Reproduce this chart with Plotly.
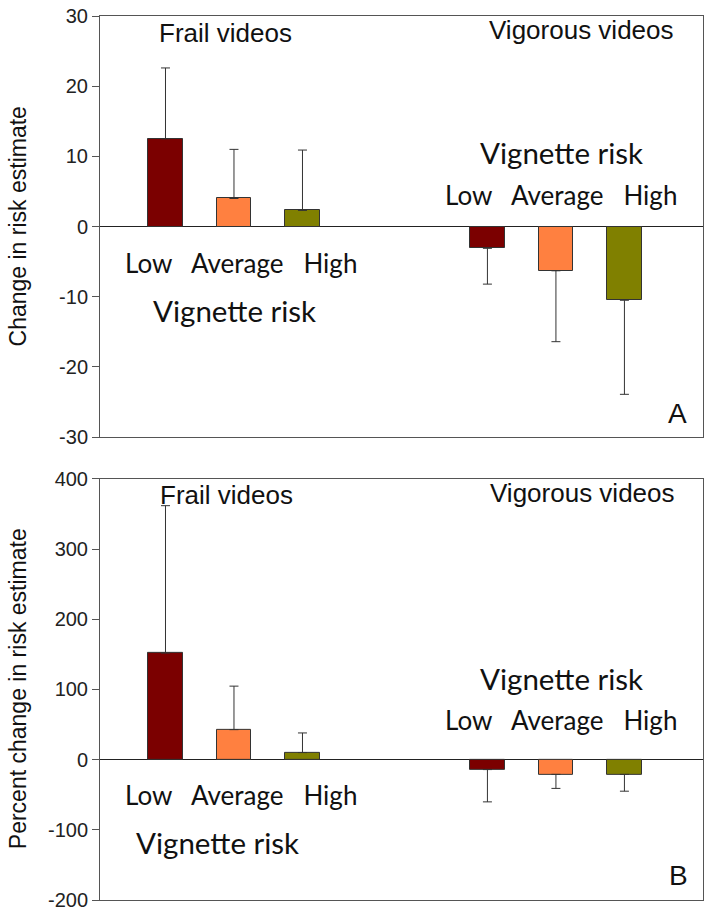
import plotly.graph_objects as go
from plotly.subplots import make_subplots

groups = ["Frail videos", "Vigorous videos"]
risk_levels = ["Low", "Average", "High"]

# Panel A: change in risk estimate
change_frail = [12.5, 4.0, 2.3]
change_frail_err = [10.1, 7.0, 8.6]
change_vig = [-3.1, -6.3, -10.5]
change_vig_err = [5.1, 10.1, 13.4]

# Panel B: percent change in risk estimate
pct_frail = [151.8, 42.7, 10.0]
pct_frail_err = [210.0, 62.0, 28.0]
pct_vig = [-14.2, -21.0, -21.0]
pct_vig_err = [46.0, 20.0, 24.0]

y_ticks_a = [-30, -20, -10, 0, 10, 20, 30]
y_ticks_b = [-200, -100, 0, 100, 200, 300, 400]

colors = ["#7B0000", "#FF8040", "#808000"]

W, H = 714, 916
ML, MR, MT, MB = 100, 10.5, 15.5, 16
PW = W - ML - MR
PH = H - MT - MB

# x layout: frail bars at 1..3, vigorous bars offset by group gap
group_offset = [0, 4.7]
def xpos(g):
    return [i + 1 + group_offset[g] for i in range(len(risk_levels))]

fig = make_subplots(rows=2, cols=1, vertical_spacing=0.0472)

def add_panel(row, frail, frail_err, vig, vig_err):
    for g, (vals, errs) in enumerate([(frail, frail_err), (vig, vig_err)]):
        pos = [v >= 0 for v in vals]
        fig.add_trace(go.Bar(
            x=xpos(g), y=vals, width=0.5,
            marker=dict(color=colors, line=dict(color="#333333", width=1)),
            error_y=dict(type="data",
                         array=[e if p else 0 for e, p in zip(errs, pos)],
                         arrayminus=[0 if p else e for e, p in zip(errs, pos)],
                         symmetric=False, color="#333333", thickness=1, width=4.5),
            showlegend=False, hoverinfo="skip"), row=row, col=1)

add_panel(1, change_frail, change_frail_err, change_vig, change_vig_err)
add_panel(2, pct_frail, pct_frail_err, pct_vig, pct_vig_err)

xr = [0.044, 8.847]
for r in (1, 2):
    fig.update_xaxes(range=xr, showticklabels=False, ticks="", showgrid=False,
                     zeroline=False, showline=True, linecolor="#555555", linewidth=1,
                     mirror=True, automargin=False, row=r, col=1)
fig.update_yaxes(range=[-30, 30], tickvals=y_ticks_a, ticktext=[str(v) for v in y_ticks_a],
                 row=1, col=1)
fig.update_yaxes(range=[-200, 400], tickvals=y_ticks_b, ticktext=[str(v) for v in y_ticks_b],
                 row=2, col=1)
fig.update_yaxes(showgrid=False, zeroline=True, zerolinecolor="#222222", zerolinewidth=1,
                 showline=True, linecolor="#555555", linewidth=1, mirror=True,
                 ticks="outside", ticklen=7, tickcolor="#555555", automargin=False,
                 tickfont=dict(family="Liberation Sans, Arial", size=20, color="#222222"))

def px(xp, yp):
    # pixel coordinates -> paper coordinates
    return (xp - ML) / PW, (H - MB - yp) / PH

ARIAL = "Liberation Sans, Arial"
CAL = "Lato, Carlito, Calibri"
LAH = "Low&nbsp;&nbsp; Average&nbsp;&nbsp; High"
texts = [
    ("Frail videos", 226, 33, ARIAL, 26),
    ("Vigorous videos", 582, 30, ARIAL, 26),
    ("Vignette risk", 562, 152, CAL, 29.5),
    (LAH, 561, 195, CAL, 26),
    (LAH, 241, 263, CAL, 26),
    ("Vignette risk", 235, 310, CAL, 29.5),
    ("A", 678, 413, ARIAL, 28),
    ("Frail videos", 227, 495, ARIAL, 26),
    ("Vigorous videos", 583, 493, ARIAL, 26),
    ("Vignette risk", 562, 678, CAL, 29.5),
    (LAH, 561, 720, CAL, 26),
    (LAH, 241, 795, CAL, 26),
    ("Vignette risk", 218, 842, CAL, 29.5),
    ("B", 679, 875, ARIAL, 28),
    ("Change in risk estimate", 18, 226, ARIAL, 23, -90),
    ("Percent change in risk estimate", 18, 689, ARIAL, 23, -90),
]
for item in texts:
    t, x, y, fam, sz = item[:5]
    ang = item[5] if len(item) > 5 else 0
    xp, yp = px(x, y)
    fig.add_annotation(text=t, x=xp, y=yp, xref="paper", yref="paper",
                       showarrow=False, xanchor="center", yanchor="middle", textangle=ang,
                       font=dict(family=fam, size=sz, color="#111111"))

fig.update_layout(width=W, height=H, margin=dict(l=ML, r=MR, t=MT, b=MB, autoexpand=False),
                  plot_bgcolor="white", paper_bgcolor="white", bargap=0)
fig.write_html("out.html", config={"displayModeBar": False},
               post_script="document.body.style.margin='0';document.body.style.overflow='hidden';")
